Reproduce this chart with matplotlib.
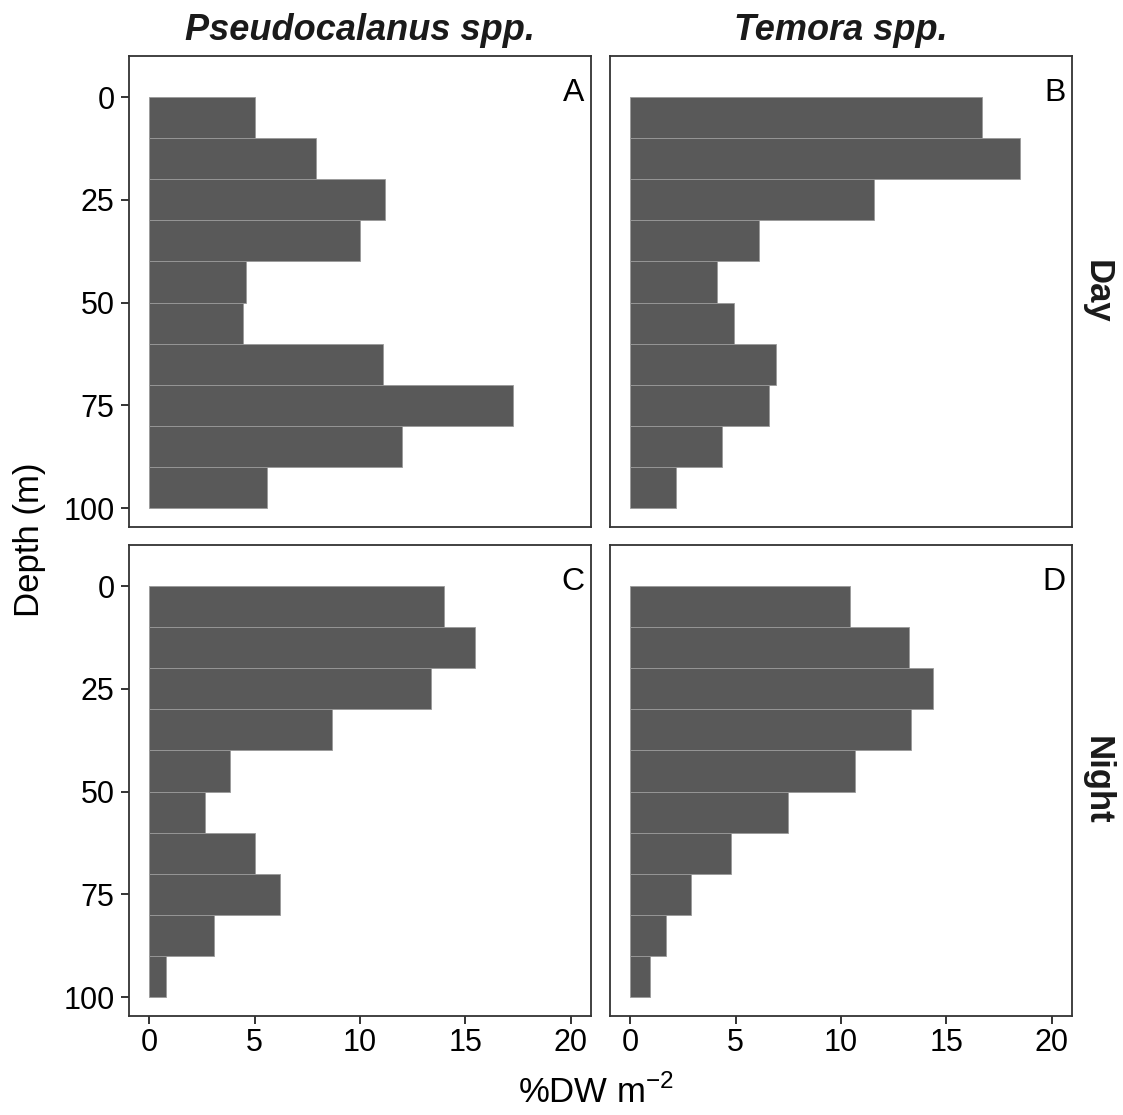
import matplotlib
matplotlib.use("Agg")
import matplotlib.pyplot as plt

plt.rcParams['font.family'] = ['Liberation Sans', 'DejaVu Sans']
plt.rcParams['mathtext.fontset'] = 'custom'
plt.rcParams['mathtext.rm'] = 'Liberation Sans'

# depth bins (top of each 10 m layer)
depth_top = [0, 10, 20, 30, 40, 50, 60, 70, 80, 90]
bin_width = 10

# %DW m-2 per layer
pseudo_day = [5.0, 7.9, 11.2, 10.0, 4.6, 4.45, 11.1, 17.25, 12.0, 5.6]
temora_day = [16.7, 18.5, 11.55, 6.1, 4.1, 4.95, 6.9, 6.6, 4.35, 2.2]
pseudo_night = [14.0, 15.45, 13.35, 8.65, 3.85, 2.65, 5.0, 6.2, 3.1, 0.8]
temora_night = [10.45, 13.2, 14.35, 13.3, 10.65, 7.5, 4.8, 2.9, 1.7, 0.95]

species = ["Pseudocalanus spp.", "Temora spp."]
periods = ["Day", "Night"]
panel_letters = [["A", "B"], ["C", "D"]]
values = [[pseudo_day, temora_day], [pseudo_night, temora_night]]

W, H = 1123, 1115
fig = plt.figure(figsize=(W / 100, H / 100), dpi=100)

lefts = [129, 610]
tops = [56, 545]
pw, ph = 462, 471

for r in range(2):
    for c in range(2):
        ax = fig.add_axes([lefts[c] / W, 1 - (tops[r] + ph) / H, pw / W, ph / H])
        ax.barh(depth_top, values[r][c], height=bin_width, align="edge",
                color="#595959", edgecolor="#9a9a9a", linewidth=0.6)
        ax.set_xlim(-0.95, 20.95)
        ax.set_ylim(104.6, -10)
        ax.set_yticks([0, 25, 50, 75, 100])
        ax.set_xticks([0, 5, 10, 15, 20])
        for s in ax.spines.values():
            s.set_color("#333333")
            s.set_linewidth(1.3)
        ax.tick_params(direction="out", length=6, width=1.4, color="#333333",
                       labelsize=22, labelcolor="black")
        ax.tick_params(axis="y", pad=4.5)
        ax.tick_params(axis="x", pad=2.5)
        if c == 1:
            ax.tick_params(axis="y", left=False, labelleft=False)
        if r == 0:
            ax.tick_params(axis="x", bottom=False, labelbottom=False)
            fig.text((lefts[c] + pw / 2) / W, 1 - 40 / H, species[c],
                     ha="center", va="baseline", fontsize=26,
                     fontweight="bold", fontstyle="italic", color="#1a1a1a")
        ax.text(0.986, 0.953, panel_letters[r][c], transform=ax.transAxes,
                ha="right", va="top", fontsize=23)
        if c == 1:
            fig.text(1097 / W, 1 - (tops[r] + ph / 2) / H, periods[r],
                     ha="center", va="center", rotation=-90,
                     fontsize=25, fontweight="bold", color="#1a1a1a")

fig.text(30 / W, 1 - 540 / H, "Depth (m)", rotation=90, ha="center",
         va="center", fontsize=25)
fig.text(596 / W, 1 - 1092 / H, "%DW m$^{-2}$", ha="center", va="center",
         fontsize=25)

fig.savefig("out.png", dpi=100)
